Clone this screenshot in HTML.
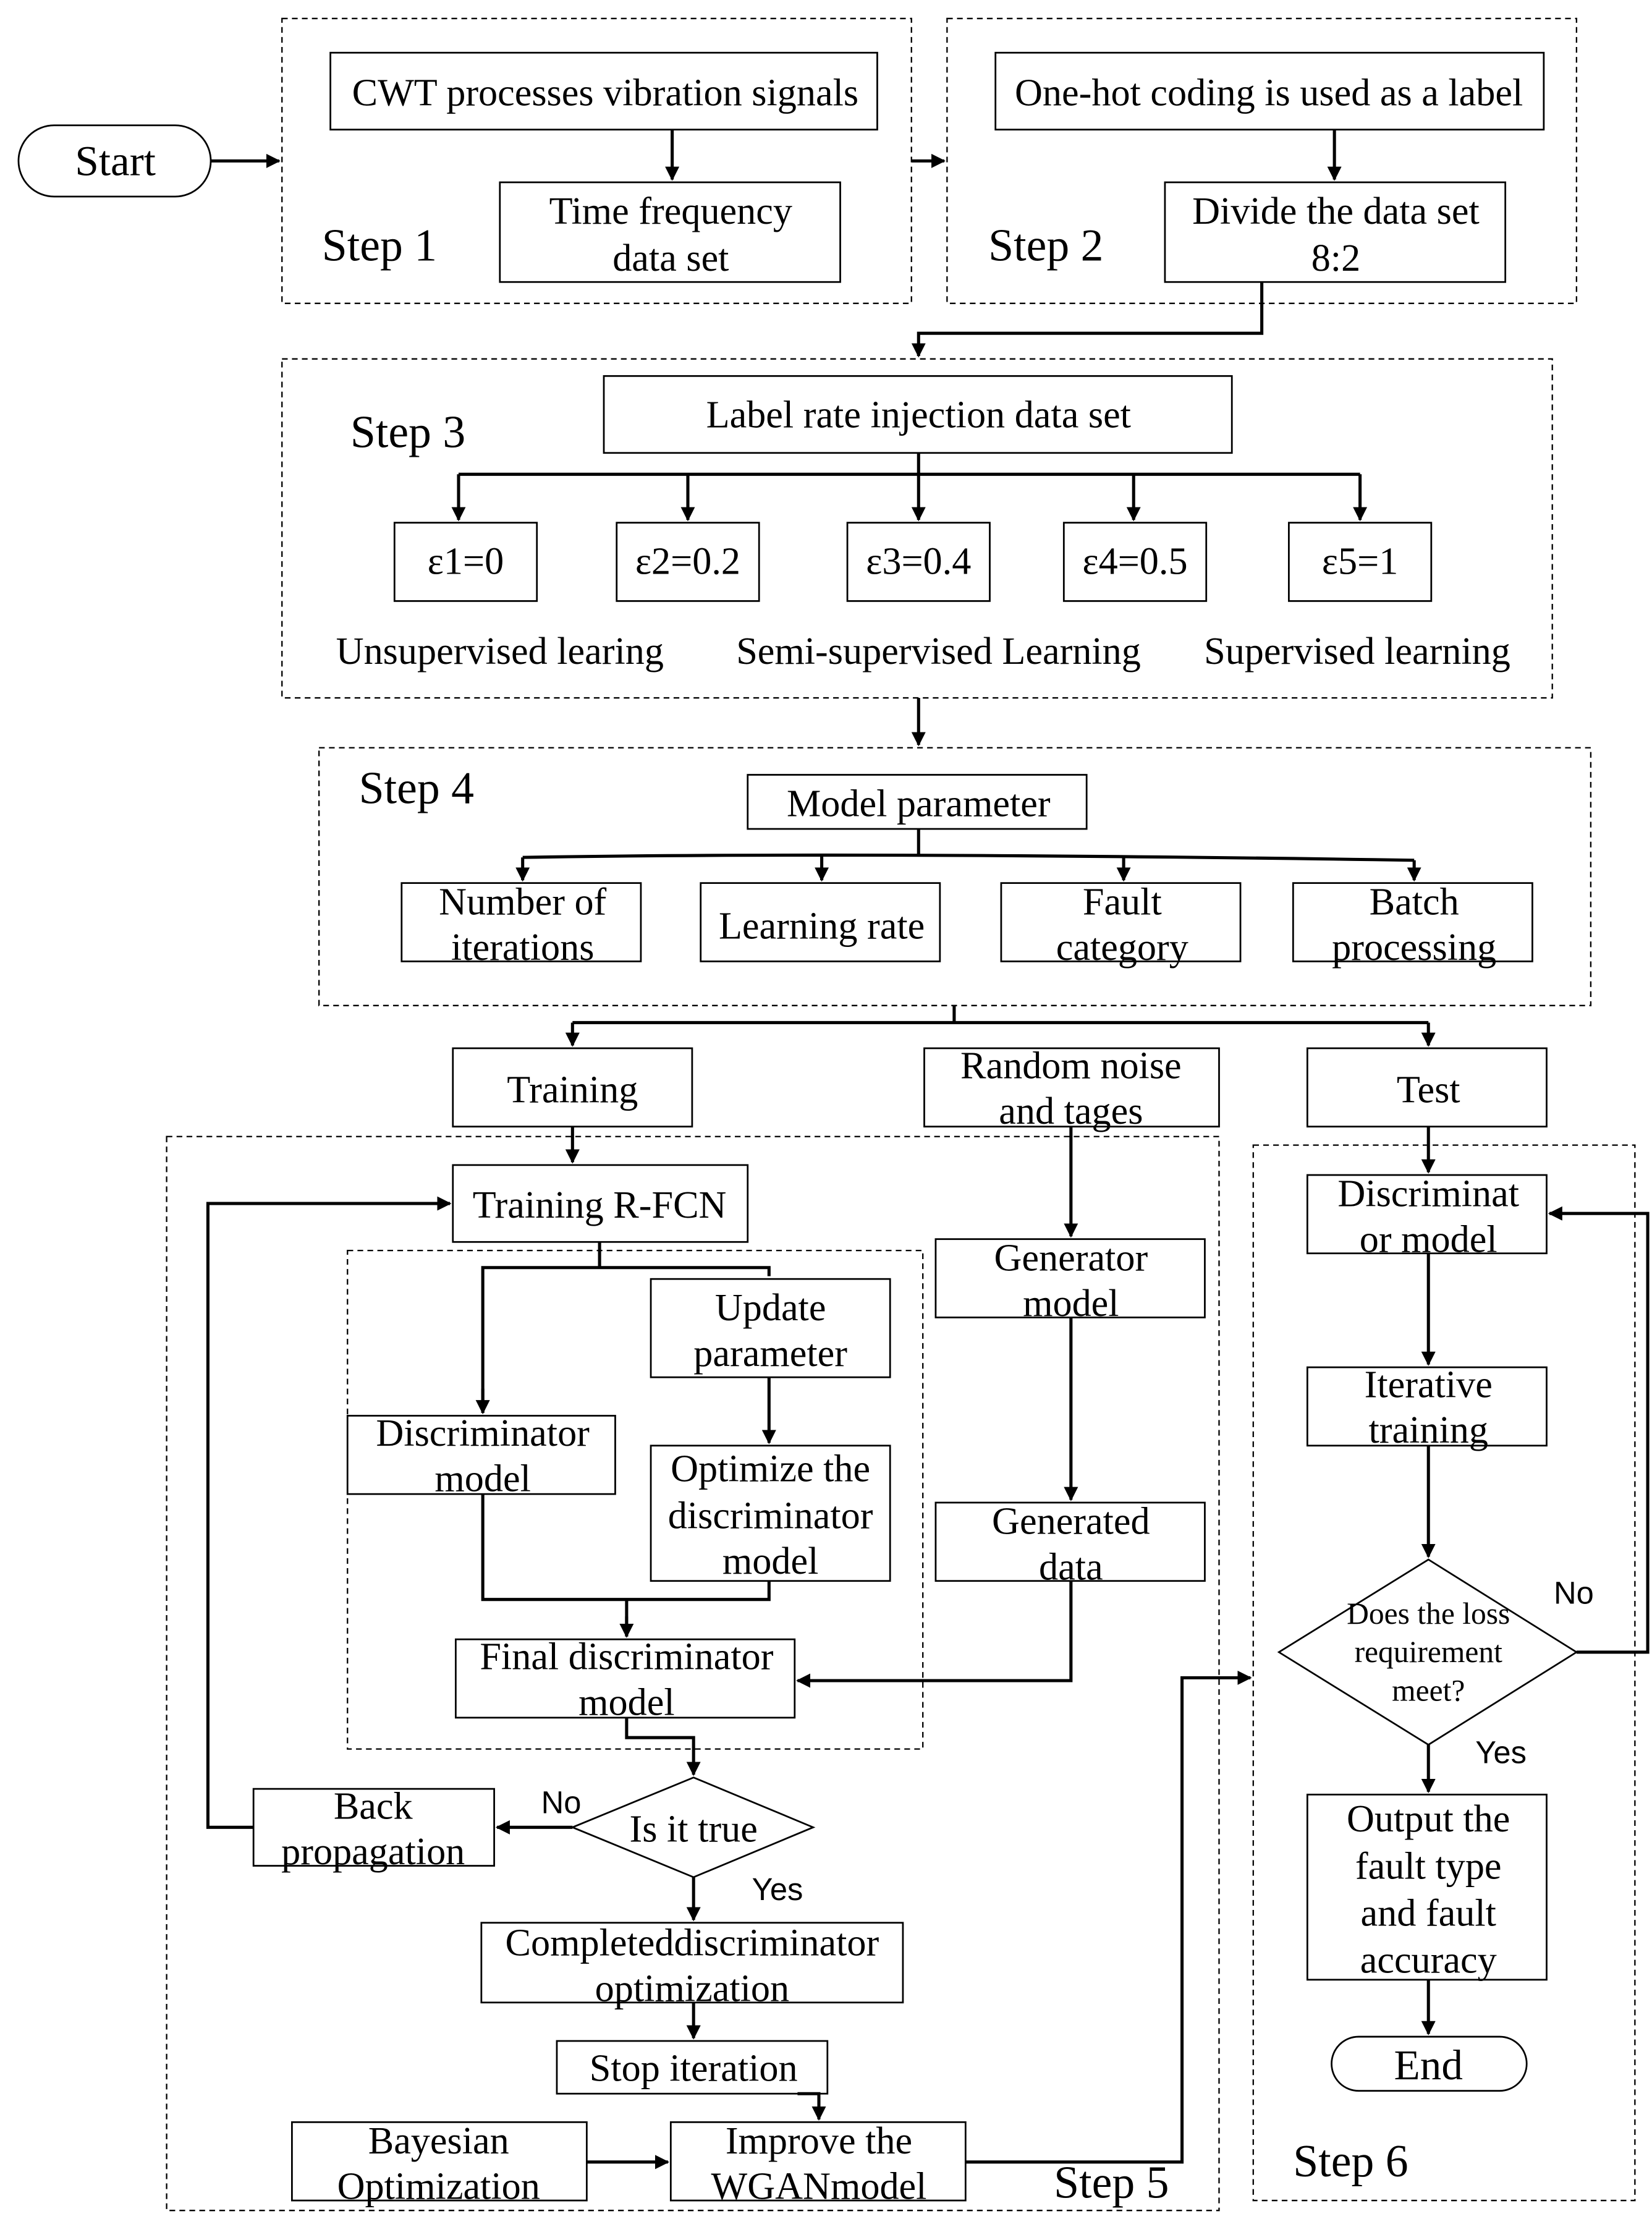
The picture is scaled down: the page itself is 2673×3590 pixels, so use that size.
<!DOCTYPE html>
<html><head><meta charset="utf-8"><style>
html,body{margin:0;padding:0;background:#fff;}
svg{display:block;}
text{font-family:"Liberation Serif",serif;fill:#000;}
</style></head><body>
<svg width="2673" height="3590" viewBox="0 0 1160 1558" preserveAspectRatio="none" xmlns="http://www.w3.org/2000/svg">
<defs><marker id="a" markerWidth="10" markerHeight="10" refX="9" refY="5" orient="auto" markerUnits="userSpaceOnUse"><path d="M0,0 L10,5 L0,10 z" fill="#000"/></marker></defs>
<g fill="none" stroke="#000" stroke-width="1" stroke-dasharray="4,3">
<rect x="198" y="13" width="442" height="200"/>
<rect x="665" y="13" width="442" height="200"/>
<rect x="198" y="252" width="892" height="238"/>
<rect x="224" y="525" width="893" height="181"/>
<rect x="117" y="798" width="739" height="754"/>
<rect x="880" y="804" width="268" height="741"/>
<rect x="244" y="878" width="404" height="350"/>
</g>
<g fill="#fff" stroke="#000" stroke-width="1.2">
<rect x="13" y="88" width="135" height="50" rx="25"/>
<rect x="232" y="37" width="384" height="54"/>
<rect x="351" y="128" width="239" height="70"/>
<rect x="699" y="37" width="385" height="54"/>
<rect x="818" y="128" width="239" height="70"/>
<rect x="424" y="264" width="441" height="54"/>
<rect x="277" y="367" width="100" height="55"/>
<rect x="433" y="367" width="100" height="55"/>
<rect x="595" y="367" width="100" height="55"/>
<rect x="747" y="367" width="100" height="55"/>
<rect x="905" y="367" width="100" height="55"/>
<rect x="525" y="544" width="238" height="38"/>
<rect x="282" y="620" width="168" height="55"/>
<rect x="492" y="620" width="168" height="55"/>
<rect x="703" y="620" width="168" height="55"/>
<rect x="908" y="620" width="168" height="55"/>
<rect x="318" y="736" width="168" height="55"/>
<rect x="649" y="736" width="207" height="55"/>
<rect x="918" y="736" width="168" height="55"/>
<rect x="318" y="818" width="207" height="54"/>
<rect x="457" y="898" width="168" height="69"/>
<rect x="244" y="994" width="188" height="55"/>
<rect x="457" y="1015" width="168" height="95"/>
<rect x="320" y="1151" width="238" height="55"/>
<rect x="657" y="870" width="189" height="55"/>
<rect x="657" y="1055" width="189" height="55"/>
<polygon points="402,1283 487,1248 571,1283 487,1318"/>
<rect x="178" y="1256" width="169" height="54"/>
<rect x="338" y="1350" width="296" height="56"/>
<rect x="391" y="1433" width="190" height="37"/>
<rect x="205" y="1490" width="207" height="55"/>
<rect x="471" y="1490" width="207" height="55"/>
<rect x="918" y="825" width="168" height="55"/>
<rect x="918" y="960" width="168" height="55"/>
<polygon points="898,1160 1003,1095 1107,1160 1003,1225"/>
<rect x="918" y="1260" width="168" height="130"/>
<rect x="935" y="1430" width="137" height="38" rx="19"/>
</g>
<g fill="none" stroke="#000" stroke-width="2.2">
<path d="M148,113 H196" marker-end="url(#a)"/>
<path d="M640,113 H663" marker-end="url(#a)"/>
<path d="M472,91 V126" marker-end="url(#a)"/>
<path d="M937,91 V126" marker-end="url(#a)"/>
<path d="M886,198 V234 H645 V250" marker-end="url(#a)"/>
<path d="M645,318 V333 M322,333 H955"/>
<path d="M322,333 V365" marker-end="url(#a)"/>
<path d="M483,333 V365" marker-end="url(#a)"/>
<path d="M645,333 V365" marker-end="url(#a)"/>
<path d="M796,333 V365" marker-end="url(#a)"/>
<path d="M955,333 V365" marker-end="url(#a)"/>
<path d="M645,490 V523" marker-end="url(#a)"/>
<path d="M645,582 V600 M367,602 Q600,598 993,604"/>
<path d="M367,602 V618" marker-end="url(#a)"/>
<path d="M577,601 V618" marker-end="url(#a)"/>
<path d="M789,602 V618" marker-end="url(#a)"/>
<path d="M993,604 V618" marker-end="url(#a)"/>
<path d="M670,706 V718 M402,718 H1003"/>
<path d="M402,718 V734" marker-end="url(#a)"/>
<path d="M1003,718 V734" marker-end="url(#a)"/>
<path d="M402,791 V816" marker-end="url(#a)"/>
<path d="M421,872 V890 H540 V896 M421,890 H339 V992"/>
<path d="M339,975 V992" marker-end="url(#a)"/>
<path d="M540,967 V1013" marker-end="url(#a)"/>
<path d="M339,1049 V1123 H540 V1110 M440,1123 V1149"/>
<path d="M440,1135 V1149" marker-end="url(#a)"/>
<path d="M752,791 V868" marker-end="url(#a)"/>
<path d="M752,925 V1053" marker-end="url(#a)"/>
<path d="M752,1110 V1180 H560" marker-end="url(#a)"/>
<path d="M440,1206 V1220 H487 V1246" marker-end="url(#a)"/>
<path d="M402,1283 H349" marker-end="url(#a)"/>
<path d="M178,1283 H146 V845 H316" marker-end="url(#a)"/>
<path d="M487,1318 V1348" marker-end="url(#a)"/>
<path d="M487,1406 V1431" marker-end="url(#a)"/>
<path d="M560,1470 H575 V1488" marker-end="url(#a)"/>
<path d="M412,1518 H469" marker-end="url(#a)"/>
<path d="M678,1518 H830 V1178 H878" marker-end="url(#a)"/>
<path d="M1003,791 V823" marker-end="url(#a)"/>
<path d="M1003,880 V958" marker-end="url(#a)"/>
<path d="M1003,1015 V1093" marker-end="url(#a)"/>
<path d="M1107,1160 H1157 V852 H1088" marker-end="url(#a)"/>
<path d="M1003,1225 V1258" marker-end="url(#a)"/>
<path d="M1003,1390 V1428" marker-end="url(#a)"/>
</g>
<g font-size="27" text-anchor="middle">
<text x="81" y="123" font-size="30">Start</text>
<text x="425" y="74">CWT processes vibration signals</text>
<text x="471" y="157">Time frequency</text><text x="471" y="190">data set</text>
<text x="891" y="74">One-hot coding is used as a label</text>
<text x="938" y="157">Divide the data set</text><text x="938" y="190">8:2</text>
<text x="645" y="300">Label rate injection data set</text>
<text x="327" y="403">ε1=0</text><text x="483" y="403">ε2=0.2</text><text x="645" y="403">ε3=0.4</text><text x="797" y="403">ε4=0.5</text><text x="955" y="403">ε5=1</text>
<text x="351" y="466">Unsupervised learing</text>
<text x="659" y="466">Semi-supervised Learning</text>
<text x="953" y="466">Supervised learning</text>
<text x="645" y="573">Model parameter</text>
<text x="367" y="642">Number of</text><text x="367" y="674">iterations</text>
<text x="577" y="659">Learning rate</text>
<text x="788" y="642">Fault</text><text x="788" y="674">category</text>
<text x="993" y="642">Batch</text><text x="993" y="674">processing</text>
<text x="402" y="774">Training</text>
<text x="752" y="757">Random noise</text><text x="752" y="789">and tages</text>
<text x="1003" y="774">Test</text>
<text x="421" y="855">Training R-FCN</text>
<text x="541" y="927">Update</text><text x="541" y="959">parameter</text>
<text x="339" y="1015">Discriminator</text><text x="339" y="1047">model</text>
<text x="541" y="1040">Optimize the</text><text x="541" y="1073">discriminator</text><text x="541" y="1105">model</text>
<text x="440" y="1172">Final discriminator</text><text x="440" y="1204">model</text>
<text x="752" y="892">Generator</text><text x="752" y="924">model</text>
<text x="752" y="1077">Generated</text><text x="752" y="1109">data</text>
<text x="487" y="1293">Is it true</text>
<text x="262" y="1277">Back</text><text x="262" y="1309">propagation</text>
<text x="486" y="1373">Completeddiscriminator</text><text x="486" y="1405">optimization</text>
<text x="487" y="1461">Stop iteration</text>
<text x="308" y="1512">Bayesian</text><text x="308" y="1544">Optimization</text>
<text x="575" y="1512">Improve the</text><text x="575" y="1544">WGANmodel</text>
<text x="1003" y="847">Discriminat</text><text x="1003" y="879">or model</text>
<text x="1003" y="981">Iterative</text><text x="1003" y="1013">training</text>
<text x="1003" y="1140" font-size="21.5">Does the loss</text><text x="1003" y="1167" font-size="21.5">requirement</text><text x="1003" y="1194" font-size="21.5">meet?</text>
<text x="1003" y="1286">Output the</text><text x="1003" y="1319">fault type</text><text x="1003" y="1352">and fault</text><text x="1003" y="1385">accuracy</text>
<text x="1003" y="1460" font-size="30">End</text>
</g>
<g font-size="22" text-anchor="start">
<text x="380" y="1273" style="font-family:'Liberation Sans',sans-serif">No</text>
<text x="528" y="1334" style="font-family:'Liberation Sans',sans-serif">Yes</text>
<text x="1091" y="1126" style="font-family:'Liberation Sans',sans-serif">No</text>
<text x="1036" y="1238" style="font-family:'Liberation Sans',sans-serif">Yes</text>
</g>
<g font-size="32">
<text x="226" y="183">Step 1</text>
<text x="694" y="183">Step 2</text>
<text x="246" y="314">Step 3</text>
<text x="252" y="564">Step 4</text>
<text x="740" y="1543">Step 5</text>
<text x="908" y="1528">Step 6</text>
</g>
</svg>
</body></html>
